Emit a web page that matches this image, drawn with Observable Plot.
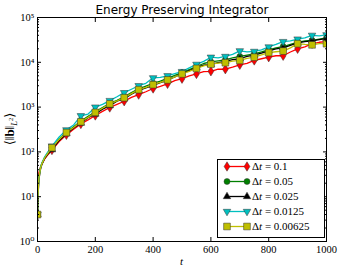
<!DOCTYPE html>
<html><head><meta charset="utf-8">
<script src="https://cdn.jsdelivr.net/npm/d3@7"></script>
<script src="https://cdn.jsdelivr.net/npm/@observablehq/plot@0.6"></script>
<style>
body{margin:0;background:#fff;}
#wrap{position:relative;width:341px;height:273px;}
#legend{position:absolute;left:217px;top:159px;}
.serif, .serif text{font-family:"Liberation Serif","DejaVu Serif",serif !important;}
</style></head><body><div id="wrap"></div>
<script>
const title = "Energy Preserving Integrator";
const times = [0,2,5,10,15,25,35,50,75,100,125,150,175,200,225,250,275,300,325,350,375,400,425,450,475,500,525,550,575,600,625,650,675,700,725,750,775,800,825,850,875,900,925,950,975,1000];
const dtLabels = ["0.1","0.05","0.025","0.0125","0.00625"];
const seriesDt01 = [4,25,35,45,54,70,85,110,170,240,320,420,520,650,800,980,1150,1350,1650,1900,2200,2600,2900,3300,3900,4300,5000,5500,6200,6300,7000,7000,7800,8800,9500,11000,12000,13000,14000,14000,17000,20000,22000,26000,28000,29000];
const seriesDt005 = [4,14,28,44,56,76,95,125,195,275,365,490,620,790,980,1220,1420,1700,2100,2550,2950,3400,3800,4400,5100,5900,6900,8000,9400,10200,10800,11300,12500,13500,14500,15500,17000,19000,21000,22500,25000,28000,30000,31000,33000,35000];
const seriesDt0025 = [4,11,24,40,52,72,88,112,180,255,340,440,580,700,900,1080,1350,1550,1950,2350,2700,3050,3500,4000,4700,5600,6500,7600,8600,9000,9800,10500,11500,12000,13500,14500,16000,18000,20000,21000,24000,27000,29000,30000,32000,34000];
const seriesDt00125 = [4,13,27,43,56,78,98,135,215,310,400,640,700,1000,1150,1400,1700,2100,2500,3000,3400,4500,4600,5000,5600,6200,7500,9000,10500,13000,12500,13500,15000,18000,17000,17500,19000,22000,25000,29000,30000,33000,35000,40000,39000,41000];
const seriesDt000625 = [4,12,26,42,54,74,92,124,190,270,350,470,590,760,940,1180,1370,1620,2000,2450,2750,3170,3550,4050,4700,5500,6300,7300,8300,9100,9600,9800,10600,11000,12200,13000,14600,16500,17200,17800,21000,26000,25000,24500,26000,26000];
const xTicks = [0,200,400,600,800,1000];
const xTickLabels = ["0","200","400","600","800","1000"];
const yTicks = [1,10,100,1000,10000,100000];
const yTickLabels = ["10\u2070","10\u00B9","10\u00B2","10\u00B3","10\u2074","10\u2075"];

const thinDiamond = {draw(ctx, size){const s=Math.sqrt(size);const h=s*0.68,w=s*0.42;ctx.moveTo(0,-h);ctx.lineTo(w,0);ctx.lineTo(0,h);ctx.lineTo(-w,0);ctx.closePath();}};
const styles = [
  {values: seriesDt01, color:"#ff0000", symbol: thinDiamond, rotate:0, r:3.9},
  {values: seriesDt005, color:"#008000", symbol: d3.symbolCircle, rotate:0, r:3},
  {values: seriesDt0025, color:"#000000", symbol: d3.symbolTriangle, rotate:0, r:2.8},
  {values: seriesDt00125, color:"#00bfbf", symbol: d3.symbolTriangle, rotate:180, r:2.8},
  {values: seriesDt000625, color:"#bfbf00", symbol: d3.symbolSquare, rotate:0, r:3.8}
];
const data = styles.map((s,k)=>times.map((t,i)=>({t, v:s.values[i], dt:dtLabels[k]})));

const yMinor = [];
for (let e=0;e<5;e++) for (let m=2;m<10;m++) yMinor.push(m*Math.pow(10,e));

const marks = [];
styles.forEach((s,k)=>{
  marks.push(Plot.line(data[k], {x:"t", y:"v", stroke:s.color, strokeWidth:1.3, clip:true}));
  marks.push(Plot.dot(data[k].filter(d=>d.t%50===0), {x:"t", y:"v", symbol:s.symbol, r:s.r, rotate:s.rotate, fill:s.color, stroke:"#333", strokeWidth:0.5, clip:true}));
});
marks.push(Plot.frame({stroke:"#000", strokeWidth:1}));
marks.push(Plot.axisX(xTicks, {anchor:"bottom", tickSize:-4, fill:"none", label:null}));
marks.push(Plot.axisX(xTicks, {anchor:"top", tickSize:-4, fill:"none", label:null}));
marks.push(Plot.axisX(xTicks, {anchor:"bottom", tickSize:0, tickPadding:4, label:null, tickFormat:d=>xTickLabels[xTicks.indexOf(d)], fontSize:10.5, fill:"#000"}));
marks.push(Plot.axisY(yTicks, {anchor:"left", tickSize:-4, fill:"none", label:null}));
marks.push(Plot.axisY(yTicks, {anchor:"right", tickSize:-4, fill:"none", label:null}));
marks.push(Plot.axisY(yMinor, {anchor:"left", tickSize:-2, fill:"none", label:null}));
marks.push(Plot.axisY(yMinor, {anchor:"right", tickSize:-2, fill:"none", label:null}));
marks.push(Plot.axisY(yTicks, {anchor:"left", tickSize:0, tickPadding:3, label:null, tickFormat:d=>yTickLabels[yTicks.indexOf(d)], fontSize:10.5, fill:"#000"}));
marks.push(Plot.text([title], {frameAnchor:"top", lineAnchor:"bottom", dy:-3.5, fontFamily:"DejaVu Sans, sans-serif", fontSize:12, fill:"#000"}));

const chart = Plot.plot({
  width:341, height:273,
  marginLeft:37, marginRight:15, marginTop:17, marginBottom:32,
  style:{background:"#fff"},
  x:{domain:[0,1000]},
  y:{type:"log", domain:[1,1e5]},
  marks
});
document.getElementById("wrap").appendChild(chart);
d3.select(chart).selectAll("[aria-label='x-axis tick label'], [aria-label='y-axis tick label']").classed("serif", true);

const svg = d3.select(chart);
svg.append("text").attr("class","serif").attr("x",181.5).attr("y",265).attr("text-anchor","middle")
  .attr("font-size",11).attr("font-style","italic").attr("fill","#000").text("t");
const yl = svg.append("text").attr("class","serif").attr("transform","translate(14,129) rotate(-90)").attr("text-anchor","middle")
  .attr("font-size",13).attr("fill","#000");
yl.append("tspan").text("\u27E8\u2016");
yl.append("tspan").attr("font-weight","bold").text("b");
yl.append("tspan").text("\u2016");
yl.append("tspan").attr("font-size",8.5).attr("font-style","italic").attr("dy",2.5).text("L");
yl.append("tspan").attr("font-size",6.5).attr("dy",-3.5).text("2");
yl.append("tspan").attr("dy",1).text("\u27E9");

const W=108,H=79;
const lg = d3.select("#wrap").append("svg").attr("id","legend").attr("width",W).attr("height",H);
lg.append("rect").attr("x",0.5).attr("y",0.5).attr("width",W-1).attr("height",H-1).attr("fill","#fff").attr("stroke","#000");
styles.forEach((s,k)=>{
  const cy = 7.5 + k*15;
  const g = lg.append("g");
  g.append("line").attr("x1",10).attr("x2",30).attr("y1",cy).attr("y2",cy).attr("stroke",s.color).attr("stroke-width",1.3);
  [10,30].forEach(cx=>{
    g.append("path").attr("d", d3.symbol(s.symbol, Math.PI*s.r*s.r)())
      .attr("transform",`translate(${cx},${cy}) rotate(${s.rotate})`)
      .attr("fill",s.color).attr("stroke","#333").attr("stroke-width",0.5);
  });
  const tx = g.append("text").attr("class","serif").attr("x",35).attr("y",cy+3.5).attr("font-size",11).attr("fill","#000");
  tx.append("tspan").text("\u0394");
  tx.append("tspan").attr("font-style","italic").text("t");
  tx.append("tspan").text(" = " + dtLabels[k]);
});
</script></body></html>
